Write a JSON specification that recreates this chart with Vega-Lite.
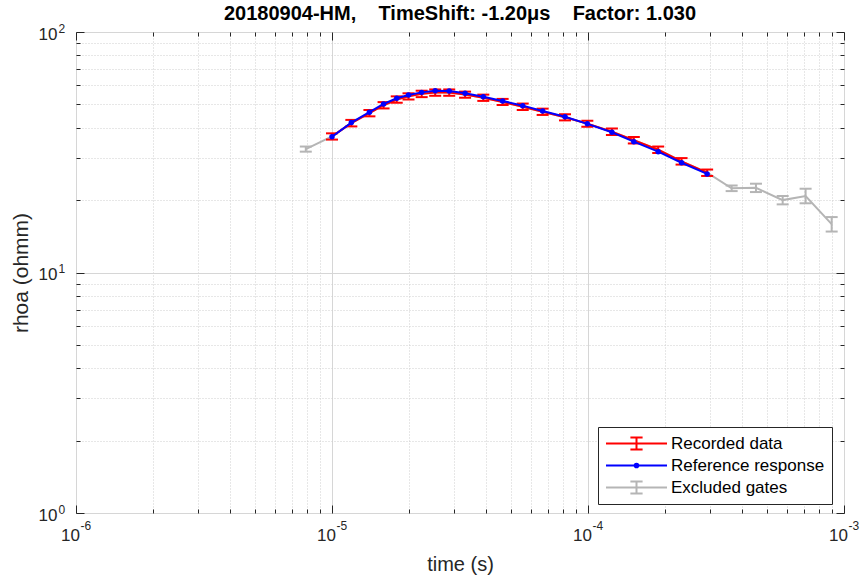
{
  "$schema": "https://vega.github.io/schema/vega-lite/v6.json",
  "width": 768,
  "height": 481,
  "autosize": {"type": "none"},
  "padding": {"left": 76, "top": 32, "right": 23, "bottom": 67},
  "background": "white",
  "title": {"text": "20180904-HM,\u00a0\u00a0\u00a0 TimeShift: -1.20μs\u00a0\u00a0\u00a0 Factor: 1.030", "font": "Liberation Sans", "fontSize": 20, "fontWeight": "bold", "color": "#000000", "offset": 8, "dy": 10, "anchor": "middle"},
  "datasets": {
    "gates": [
      {"time": 7.9e-6, "rhoa": 32.6, "lo": 31.8, "hi": 33.4, "ref": null, "gate": "Excluded"},
      {"time": 1.00e-5, "rhoa": 36.8, "lo": 35.7, "hi": 37.9, "ref": 36.7, "gate": "Recorded"},
      {"time": 1.19e-5, "rhoa": 41.8, "lo": 40.5, "hi": 43.1, "ref": 42.0, "gate": "Recorded"},
      {"time": 1.40e-5, "rhoa": 46.0, "lo": 44.6, "hi": 47.4, "ref": 46.4, "gate": "Recorded"},
      {"time": 1.59e-5, "rhoa": 49.6, "lo": 48.1, "hi": 51.1, "ref": 50.2, "gate": "Recorded"},
      {"time": 1.79e-5, "rhoa": 52.4, "lo": 50.8, "hi": 54.0, "ref": 53.0, "gate": "Recorded"},
      {"time": 1.99e-5, "rhoa": 54.0, "lo": 52.4, "hi": 55.6, "ref": 54.7, "gate": "Recorded"},
      {"time": 2.24e-5, "rhoa": 55.3, "lo": 53.6, "hi": 57.0, "ref": 56.1, "gate": "Recorded"},
      {"time": 2.53e-5, "rhoa": 56.0, "lo": 54.3, "hi": 57.7, "ref": 57.0, "gate": "Recorded"},
      {"time": 2.87e-5, "rhoa": 56.0, "lo": 54.3, "hi": 57.7, "ref": 56.9, "gate": "Recorded"},
      {"time": 3.31e-5, "rhoa": 54.9, "lo": 53.3, "hi": 56.5, "ref": 55.6, "gate": "Recorded"},
      {"time": 3.90e-5, "rhoa": 53.3, "lo": 51.7, "hi": 54.9, "ref": 53.8, "gate": "Recorded"},
      {"time": 4.64e-5, "rhoa": 51.2, "lo": 49.7, "hi": 52.7, "ref": 51.7, "gate": "Recorded"},
      {"time": 5.56e-5, "rhoa": 48.9, "lo": 47.4, "hi": 50.4, "ref": 49.4, "gate": "Recorded"},
      {"time": 6.65e-5, "rhoa": 46.6, "lo": 45.2, "hi": 48.0, "ref": 46.9, "gate": "Recorded"},
      {"time": 8.13e-5, "rhoa": 44.2, "lo": 42.9, "hi": 45.5, "ref": 44.4, "gate": "Recorded"},
      {"time": 9.94e-5, "rhoa": 41.6, "lo": 40.4, "hi": 42.8, "ref": 41.5, "gate": "Recorded"},
      {"time": 1.24e-4, "rhoa": 38.5, "lo": 37.3, "hi": 39.7, "ref": 38.3, "gate": "Recorded"},
      {"time": 1.51e-4, "rhoa": 35.5, "lo": 34.4, "hi": 36.6, "ref": 35.0, "gate": "Recorded"},
      {"time": 1.88e-4, "rhoa": 32.4, "lo": 31.4, "hi": 33.4, "ref": 31.8, "gate": "Recorded"},
      {"time": 2.32e-4, "rhoa": 29.0, "lo": 28.1, "hi": 29.9, "ref": 28.6, "gate": "Recorded"},
      {"time": 2.92e-4, "rhoa": 26.0, "lo": 25.2, "hi": 26.8, "ref": 25.7, "gate": "Recorded"},
      {"time": 3.64e-4, "rhoa": 22.4, "lo": 21.8, "hi": 23.0, "ref": null, "gate": "Excluded"},
      {"time": 4.53e-4, "rhoa": 22.5, "lo": 21.6, "hi": 23.4, "ref": null, "gate": "Excluded"},
      {"time": 5.76e-4, "rhoa": 20.0, "lo": 19.2, "hi": 20.8, "ref": null, "gate": "Excluded"},
      {"time": 7.08e-4, "rhoa": 20.8, "lo": 19.4, "hi": 22.3, "ref": null, "gate": "Excluded"},
      {"time": 8.95e-4, "rhoa": 15.9, "lo": 14.8, "hi": 17.0, "ref": null, "gate": "Excluded"}
    ],
    "legend": [
      {"series": "Recorded data"},
      {"series": "Reference response"},
      {"series": "Excluded gates"}
    ]
  },
  "resolve": {"axis": {"x": "independent", "y": "independent"}},
  "layer": [
    {
      "data": {"name": "gates"},
      "mark": {"type": "line", "color": "#b5b5b5", "strokeWidth": 2},
      "encoding": {
        "x": {"field": "time", "type": "quantitative", "scale": {"type": "log", "domain": [1e-6, 1e-3], "nice": false},
          "axis": {"orient": "bottom", "values": [1e-6, 1e-5, 1e-4, 1e-3], "title": "time (s)", "grid": true, "gridColor": "#d6d6d6", "gridWidth": 1,
            "tickSize": -8, "tickColor": "#262626", "labelPadding": 22, "labelOffset": -6, "labelFontSize": 17, "labelFont": "Liberation Sans", "labelColor": "#262626",
            "labelExpr": "'10'",
            "titleFontSize": 20, "titleFont": "Liberation Sans", "titleFontWeight": "normal", "titleColor": "#262626", "titlePadding": 11, "domain": false, "labelOverlap": false, "labelFlush": false, "labelBound": false}},
        "y": {"field": "rhoa", "type": "quantitative", "scale": {"type": "log", "domain": [1, 100], "nice": false},
          "axis": {"orient": "left", "values": [1, 10, 100], "title": "rhoa (ohmm)", "grid": true, "gridColor": "#d6d6d6", "gridWidth": 1,
            "tickSize": -8, "tickColor": "#262626", "labelPadding": 27, "labelOffset": 2, "labelFontSize": 17, "labelFont": "Liberation Sans", "labelColor": "#262626",
            "labelExpr": "'10'",
            "titleFontSize": 21, "titleFont": "Liberation Sans", "titleFontWeight": "normal", "titleColor": "#262626", "titlePadding": 7, "domain": false, "labelOverlap": false, "labelFlush": false, "labelBound": false}}
      }
    },
    {
      "data": {"name": "gates"},
      "transform": [{"filter": "datum.gate == 'Excluded'"}],
      "mark": {"type": "rule", "color": "#b5b5b5", "strokeWidth": 2},
      "encoding": {
        "x": {"field": "time", "type": "quantitative", "scale": {"type": "log", "domain": [1e-6, 1e-3], "nice": false},
          "axis": {"orient": "bottom", "values": [2e-6, 3e-6, 4e-6, 5e-6, 6e-6, 7e-6, 8e-6, 9e-6, 2e-5, 3e-5, 4e-5, 5e-5, 6e-5, 7e-5, 8e-5, 9e-5, 2e-4, 3e-4, 4e-4, 5e-4, 6e-4, 7e-4, 8e-4, 9e-4],
            "title": null, "labels": false, "grid": true, "gridColor": "#cfcfcf", "gridDash": [1, 2], "tickSize": -4, "tickColor": "#262626", "domain": false}},
        "y": {"field": "lo", "type": "quantitative", "scale": {"type": "log", "domain": [1, 100], "nice": false},
          "axis": {"orient": "left", "values": [2, 3, 4, 5, 6, 7, 8, 9, 20, 30, 40, 50, 60, 70, 80, 90],
            "title": null, "labels": false, "grid": true, "gridColor": "#cfcfcf", "gridDash": [1, 2], "tickSize": -4, "tickColor": "#262626", "domain": false}},
        "y2": {"field": "hi"}
      }
    },
    {
      "data": {"name": "gates"},
      "transform": [{"filter": "datum.gate == 'Excluded'"}],
      "mark": {"type": "tick", "orient": "horizontal", "color": "#b5b5b5", "size": 12, "thickness": 2, "opacity": 1},
      "encoding": {
        "x": {"field": "time", "type": "quantitative", "scale": {"type": "log", "domain": [1e-6, 1e-3], "nice": false},
          "axis": {"orient": "bottom", "values": [1e-6, 1e-5, 1e-4, 1e-3], "title": null, "grid": false, "ticks": false, "domain": false,
            "labelPadding": 7, "labelOffset": 4, "labelAlign": "left", "labelFontSize": 12, "labelFont": "Liberation Sans", "labelColor": "#262626",
            "labelExpr": "datum.value < 5e-6 ? '-6' : datum.value < 5e-5 ? '-5' : datum.value < 5e-4 ? '-4' : '-3'",
            "labelOverlap": false, "labelFlush": false, "labelBound": false}},
        "y": {"field": "lo", "type": "quantitative", "scale": {"type": "log", "domain": [1, 100], "nice": false},
          "axis": {"orient": "left", "values": [1, 10, 100], "title": null, "grid": false, "ticks": false, "domain": false,
            "labelPadding": 18, "labelOffset": -4, "labelAlign": "left", "labelFontSize": 12, "labelFont": "Liberation Sans", "labelColor": "#262626",
            "labelExpr": "datum.value < 5 ? '0' : datum.value < 50 ? '1' : '2'",
            "labelOverlap": false, "labelFlush": false, "labelBound": false}}
      }
    },
    {
      "data": {"name": "gates"},
      "transform": [{"filter": "datum.gate == 'Excluded'"}],
      "mark": {"type": "tick", "orient": "horizontal", "color": "#b5b5b5", "size": 12, "thickness": 2, "opacity": 1},
      "encoding": {
        "x": {"field": "time", "type": "quantitative", "scale": {"type": "log", "domain": [1e-6, 1e-3], "nice": false}, "axis": null},
        "y": {"field": "hi", "type": "quantitative", "scale": {"type": "log", "domain": [1, 100], "nice": false}, "axis": null}
      }
    },
    {
      "data": {"name": "gates"},
      "transform": [{"filter": "datum.gate == 'Recorded'"}],
      "mark": {"type": "line", "color": "#ff0000", "strokeWidth": 2},
      "encoding": {
        "x": {"field": "time", "type": "quantitative", "scale": {"type": "log", "domain": [1e-6, 1e-3], "nice": false},
          "axis": {"orient": "top", "values": [1e-6, 1e-5, 1e-4, 1e-3], "title": null, "labels": false, "grid": false, "tickSize": -8, "tickColor": "#262626", "domain": false}},
        "y": {"field": "rhoa", "type": "quantitative", "scale": {"type": "log", "domain": [1, 100], "nice": false},
          "axis": {"orient": "right", "values": [1, 10, 100], "title": null, "labels": false, "grid": false, "tickSize": -8, "tickColor": "#262626", "domain": false}}
      }
    },
    {
      "data": {"name": "gates"},
      "transform": [{"filter": "datum.gate == 'Recorded'"}],
      "mark": {"type": "rule", "color": "#ff0000", "strokeWidth": 2},
      "encoding": {
        "x": {"field": "time", "type": "quantitative", "scale": {"type": "log", "domain": [1e-6, 1e-3], "nice": false},
          "axis": {"orient": "top", "values": [2e-6, 3e-6, 4e-6, 5e-6, 6e-6, 7e-6, 8e-6, 9e-6, 2e-5, 3e-5, 4e-5, 5e-5, 6e-5, 7e-5, 8e-5, 9e-5, 2e-4, 3e-4, 4e-4, 5e-4, 6e-4, 7e-4, 8e-4, 9e-4],
            "title": null, "labels": false, "grid": false, "tickSize": -4, "tickColor": "#262626", "domain": false}},
        "y": {"field": "lo", "type": "quantitative", "scale": {"type": "log", "domain": [1, 100], "nice": false},
          "axis": {"orient": "right", "values": [2, 3, 4, 5, 6, 7, 8, 9, 20, 30, 40, 50, 60, 70, 80, 90],
            "title": null, "labels": false, "grid": false, "tickSize": -4, "tickColor": "#262626", "domain": false}},
        "y2": {"field": "hi"}
      }
    },
    {
      "data": {"name": "gates"},
      "transform": [{"filter": "datum.gate == 'Recorded'"}],
      "mark": {"type": "tick", "orient": "horizontal", "color": "#ff0000", "size": 12, "thickness": 2, "opacity": 1},
      "encoding": {
        "x": {"field": "time", "type": "quantitative", "scale": {"type": "log", "domain": [1e-6, 1e-3], "nice": false}, "axis": null},
        "y": {"field": "lo", "type": "quantitative", "scale": {"type": "log", "domain": [1, 100], "nice": false}, "axis": null}
      }
    },
    {
      "data": {"name": "gates"},
      "transform": [{"filter": "datum.gate == 'Recorded'"}],
      "mark": {"type": "tick", "orient": "horizontal", "color": "#ff0000", "size": 12, "thickness": 2, "opacity": 1},
      "encoding": {
        "x": {"field": "time", "type": "quantitative", "scale": {"type": "log", "domain": [1e-6, 1e-3], "nice": false}, "axis": null},
        "y": {"field": "hi", "type": "quantitative", "scale": {"type": "log", "domain": [1, 100], "nice": false}, "axis": null}
      }
    },
    {
      "data": {"name": "gates"},
      "transform": [{"filter": "datum.gate == 'Recorded'"}],
      "mark": {"type": "line", "color": "#0000ff", "strokeWidth": 2, "point": {"filled": true, "size": 30, "color": "#0000ff"}},
      "encoding": {
        "x": {"field": "time", "type": "quantitative", "scale": {"type": "log", "domain": [1e-6, 1e-3], "nice": false}, "axis": null},
        "y": {"field": "ref", "type": "quantitative", "scale": {"type": "log", "domain": [1, 100], "nice": false}, "axis": null}
      }
    },
    {
      "data": {"name": "legend"},
      "mark": {"type": "point", "opacity": 0, "filled": false, "strokeWidth": 2},
      "encoding": {
        "color": {"field": "series", "type": "nominal",
          "scale": {"domain": ["Recorded data", "Reference response", "Excluded gates"], "range": ["#ff0000", "#0000ff", "#b5b5b5"]},
          "legend": {"title": null, "orient": "none", "legendX": 522, "legendY": 395, "symbolSize": 3721, "symbolStrokeWidth": 2, "labelFontSize": 17, "labelFont": "Liberation Sans", "labelColor": "#000000", "padding": 7, "strokeColor": "#262626", "fillColor": "#ffffff", "labelOffset": 3, "rowPadding": 3, "clipHeight": 19}},
        "shape": {"field": "series", "type": "nominal",
          "scale": {"domain": ["Recorded data", "Reference response", "Excluded gates"], "range": ["M-1,0H1M0,-0.2V0.2M-0.2,-0.2H0.2M-0.2,0.2H0.2", "M-1,0H1M-0.06,0A0.06,0.06 0 1,0 0.06,0A0.06,0.06 0 1,0 -0.06,0", "M-1,0H1M0,-0.2V0.2M-0.2,-0.2H0.2M-0.2,0.2H0.2"]},
          "legend": {"title": null, "orient": "none", "legendX": 522, "legendY": 395, "symbolSize": 3721, "symbolStrokeWidth": 2, "labelFontSize": 17, "labelFont": "Liberation Sans", "labelColor": "#000000", "padding": 7, "strokeColor": "#262626", "fillColor": "#ffffff", "labelOffset": 3, "rowPadding": 3, "clipHeight": 19}}
      }
    }
  ],
  "config": {
    "view": {"stroke": "#262626", "strokeWidth": 1},
    "font": "Liberation Sans"
  }
}
